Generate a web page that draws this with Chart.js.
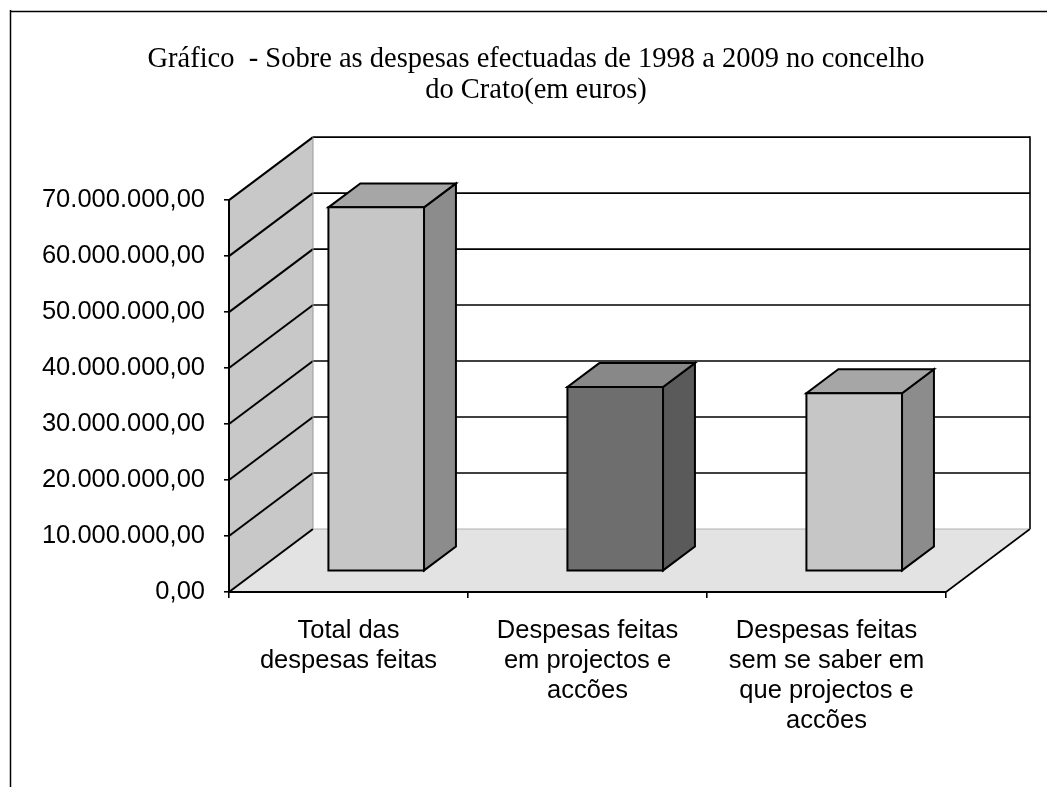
<!DOCTYPE html>
<html lang="pt">
<head>
    <meta charset="UTF-8">
    <title>Despesas Crato</title>
    <script src="https://cdn.jsdelivr.net/npm/chart.js@4.4.1/dist/chart.umd.min.js"></script>
    <style>
        html, body { margin: 0; padding: 0; background: #fff; }
        #wrap { width: 1047px; height: 787px; }
    </style>
</head>
<body>
<div id="wrap"><canvas id="myBarChart"></canvas></div>
<script>
    // data
    var categories = [
        ["Total das", "despesas feitas"],
        ["Despesas feitas", "em projectos e", "accões"],
        ["Despesas feitas", "sem se saber em", "que projectos e", "accões"]
    ];
    var despesas = [65000000, 32900000, 31800000];
    var titleLines = [
        "Gráfico  - Sobre as despesas efectuadas de 1998 a 2009 no concelho",
        "do Crato(em euros)"
    ];
    var yMax = 70000000;
    var yStep = 10000000;

    // look of the fake 3d box
    var depthX = 84, depthY = -63;
    var barFrontAt = 0.33, barBackAt = 0.71;
    var faceColors = [
        {front: '#c6c6c6', top: '#a6a6a6', side: '#8c8c8c'},
        {front: '#6e6e6e', top: '#888888', side: '#5a5a5a'},
        {front: '#c6c6c6', top: '#a6a6a6', side: '#8c8c8c'}
    ];

    function fmtEuro(v) {
        var s = Math.round(v).toString().replace(/\B(?=(\d{3})+(?!\d))/g, '.');
        return s + ',00';
    }

    function poly(ctx, pts, fill, stroke, lw) {
        ctx.beginPath();
        ctx.moveTo(pts[0][0], pts[0][1]);
        for (var i = 1; i < pts.length; i++) {
            ctx.lineTo(pts[i][0], pts[i][1]);
        }
        ctx.closePath();
        if (fill) { ctx.fillStyle = fill; ctx.fill(); }
        if (stroke) { ctx.strokeStyle = stroke; ctx.lineWidth = lw || 1; ctx.stroke(); }
    }

    function line(ctx, x1, y1, x2, y2, color, lw) {
        ctx.beginPath();
        ctx.moveTo(x1, y1);
        ctx.lineTo(x2, y2);
        ctx.strokeStyle = color;
        ctx.lineWidth = lw;
        ctx.stroke();
    }

    var box3d = {
        id: 'box3d',
        afterLayout: function (chart) {
            // title is centred on the whole page frame, not on the plot
            if (chart.titleBlock) {
                chart.titleBlock.left = 25;
                chart.titleBlock.right = chart.width;
            }
        },
        beforeDraw: function (chart) {
            var ctx = chart.ctx;
            var a = chart.chartArea;
            var ys = chart.scales.y;
            ctx.save();
            // outer frame of the scanned page
            line(ctx, 10.5, 10, 10.5, chart.height, '#000', 1.5);
            line(ctx, 10, 11.5, chart.width, 11.5, '#000', 1.5);

            var y0 = ys.getPixelForValue(0);
            var yTop = ys.getPixelForValue(yMax);
            // back wall
            poly(ctx, [[a.left + depthX, yTop + depthY], [a.right + depthX, yTop + depthY],
                       [a.right + depthX, y0 + depthY], [a.left + depthX, y0 + depthY]], '#ffffff');
            // left wall
            poly(ctx, [[a.left, y0], [a.left, yTop], [a.left + depthX, yTop + depthY],
                       [a.left + depthX, y0 + depthY]], '#c8c8c8');
            // floor
            poly(ctx, [[a.left, y0], [a.right, y0], [a.right + depthX, y0 + depthY],
                       [a.left + depthX, y0 + depthY]], '#e3e3e3');

            // grid lines on both walls
            ys.ticks.forEach(function (t) {
                var py = ys.getPixelForValue(t.value);
                if (t.value > 0) {
                    line(ctx, a.left + depthX, py + depthY, a.right + depthX, py + depthY, '#000', 1.6);
                }
                line(ctx, a.left, py, a.left + depthX, py + depthY, '#000', 2);
            });
            // wall edges
            line(ctx, a.left + depthX, yTop + depthY, a.left + depthX, y0 + depthY, '#9a9a9a', 1);
            line(ctx, a.right + depthX, yTop + depthY - 1, a.right + depthX, y0 + depthY, '#000', 1.6);
            line(ctx, a.left + depthX, y0 + depthY, a.right + depthX, y0 + depthY, '#b0b0b0', 1);
            line(ctx, a.right, y0, a.right + depthX, y0 + depthY, '#000', 1.6);
            ctx.restore();
        },
        afterDatasetsDraw: function (chart) {
            var ctx = chart.ctx;
            var meta = chart.getDatasetMeta(0);
            var ax = depthX * barFrontAt, ay = depthY * barFrontAt;
            var bx = depthX * barBackAt, by = depthY * barBackAt;
            ctx.save();
            ctx.lineJoin = 'miter';
            meta.data.forEach(function (el, i) {
                var p = el.getProps(['x', 'y', 'base', 'width'], true);
                var l = p.x - p.width / 2, r = p.x + p.width / 2;
                var t = p.y, b = p.base;
                var c = faceColors[i];
                // side face
                poly(ctx, [[r + ax, t + ay], [r + bx, t + by], [r + bx, b + by], [r + ax, b + ay]],
                     c.side, '#000', 2);
                // top face
                poly(ctx, [[l + ax, t + ay], [r + ax, t + ay], [r + bx, t + by], [l + bx, t + by]],
                     c.top, '#000', 2);
                // front face
                poly(ctx, [[l + ax, t + ay], [r + ax, t + ay], [r + ax, b + ay], [l + ax, b + ay]],
                     c.front, '#000', 2);
            });
            ctx.restore();
        }
    };

    var ctx = document.getElementById('myBarChart');
    var myChart = new Chart(ctx, {
        type: 'bar',
        data: {
            labels: categories,
            datasets: [{
                label: 'despesas',
                data: despesas,
                backgroundColor: 'rgba(0,0,0,0)',
                borderWidth: 0,
                barPercentage: 0.4,
                categoryPercentage: 1
            }]
        },
        options: {
            responsive: true,
            maintainAspectRatio: false,
            animation: false,
            layout: {
                padding: {left: 25, right: 101, top: 0, bottom: 0}
            },
            plugins: {
                legend: {display: false},
                tooltip: {enabled: false},
                title: {
                    display: true,
                    text: titleLines,
                    color: '#000',
                    font: {family: 'Liberation Serif', size: 28.5, weight: 'normal', lineHeight: 1.09},
                    padding: {top: 44, bottom: 94}
                }
            },
            scales: {
                x: {
                    afterFit: function (scale) { scale.height = 195; },
                    grid: {
                        drawOnChartArea: false,
                        drawTicks: true,
                        tickLength: 6,
                        color: '#000',
                        lineWidth: 1.6
                    },
                    border: {display: true, color: '#000', width: 2},
                    ticks: {
                        color: '#000',
                        padding: 18,
                        maxRotation: 0,
                        autoSkip: false,
                        font: {family: 'Liberation Sans', size: 25.5, lineHeight: 1.18}
                    }
                },
                y: {
                    min: 0,
                    max: yMax,
                    afterFit: function (scale) { scale.width = 204; },
                    grid: {
                        drawOnChartArea: false,
                        drawTicks: true,
                        tickLength: 5,
                        color: '#000',
                        lineWidth: 1.6
                    },
                    border: {display: true, color: '#000', width: 2},
                    ticks: {
                        stepSize: yStep,
                        color: '#000',
                        padding: 19,
                        font: {family: 'Liberation Sans', size: 25.5},
                        callback: function (v) { return fmtEuro(v); }
                    }
                }
            }
        },
        plugins: [box3d]
    });
</script>
</body>
</html>
